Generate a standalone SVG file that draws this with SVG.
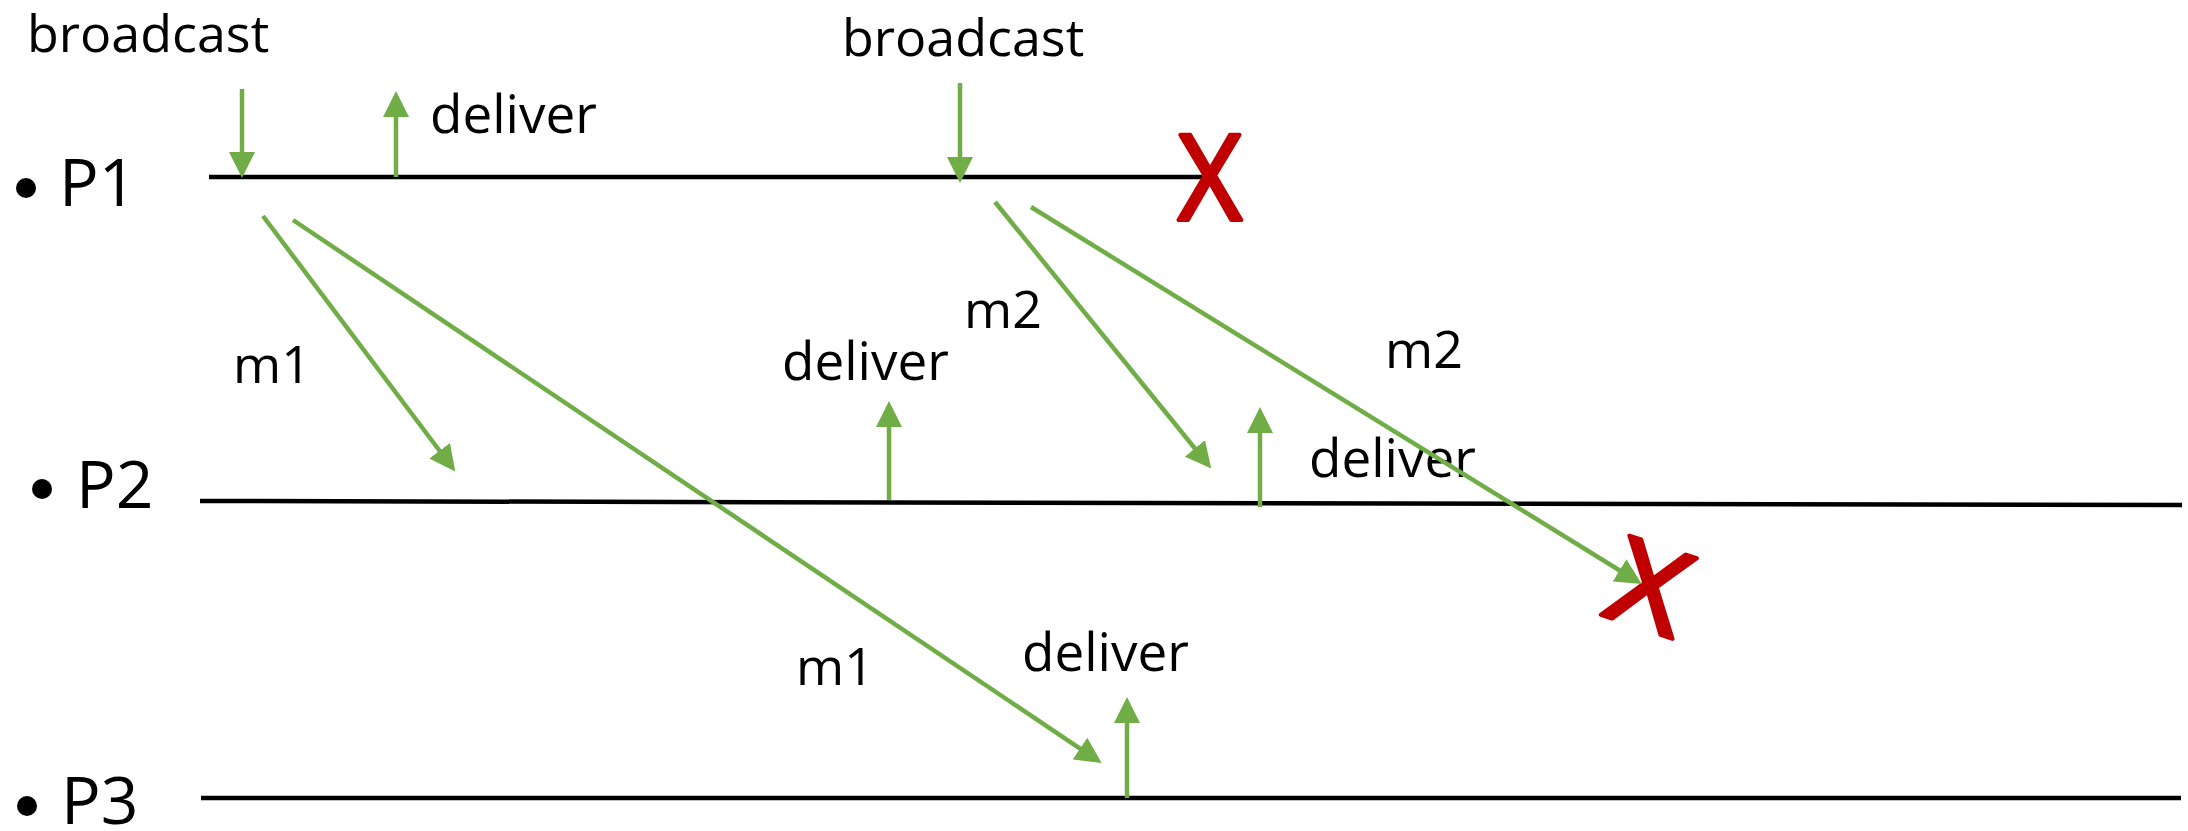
<svg xmlns="http://www.w3.org/2000/svg" width="2188" height="831" viewBox="0 0 2188 831">
  <style>
    .lbl { font-family: "Open Sans", "Noto Sans", "Liberation Sans", sans-serif; fill: #000; }
    .ev { font-size: 53px; }
    .msg { font-size: 52px; }
    .proc { font-size: 66px; }
    .timeline { stroke: #000; stroke-width: 4.5; fill: none; }
    .arrow { stroke: #70AD47; stroke-width: 4.5; fill: none; marker-end: url(#head); }
    .crash { font-family: "Open Sans", "Noto Sans", "Liberation Sans", sans-serif; font-size: 119px; fill: #C00000; stroke: #C00000; stroke-width: 4; stroke-linejoin: round; text-anchor: middle; }
  </style>
  <defs>
    <marker id="head" markerUnits="userSpaceOnUse" markerWidth="26" markerHeight="26" viewBox="0 0 26 26" refX="4" refY="13" orient="auto">
      <path d="M0,0 L26,13 L0,26 Z" fill="#70AD47"/>
    </marker>
  </defs>
  <rect width="2188" height="831" fill="#fff"/>

  <!-- process P1 -->
  <g id="p1">
    <circle cx="26" cy="188" r="10" fill="#000"/>
    <text class="lbl proc" x="59" y="206">P1</text>
    <line class="timeline" x1="209" y1="177" x2="1202" y2="177"/>
  </g>

  <!-- process P2 -->
  <g id="p2">
    <circle cx="42" cy="489" r="10" fill="#000"/>
    <text class="lbl proc" x="76" y="508">P2</text>
    <line class="timeline" x1="200" y1="501" x2="2182" y2="505"/>
  </g>

  <!-- process P3 -->
  <g id="p3">
    <circle cx="27" cy="806" r="10" fill="#000"/>
    <text class="lbl proc" x="61" y="824">P3</text>
    <line class="timeline" x1="201" y1="798" x2="2181" y2="798"/>
  </g>

  <!-- crash of P1 -->
  <g id="crash-p1">
    <text class="crash" transform="translate(1210,220) scale(0.93,1)" x="0" y="0">X</text>
  </g>

  <!-- m2 lost on its way to P3 -->
  <g id="crash-m2">
    <text class="crash" transform="matrix(1.052 0.354 -0.312 0.941 1650 587)" x="0" y="42.5">X</text>
  </g>

  <!-- event labels -->
  <g id="labels">
    <text class="lbl msg" x="27" y="52">broadcast</text>
    <text class="lbl msg" x="842" y="56">broadcast</text>
    <text class="lbl ev" x="430" y="133">deliver</text>
    <text class="lbl ev" x="782" y="380">deliver</text>
    <text class="lbl ev" x="1309" y="477">deliver</text>
    <text class="lbl ev" x="1022" y="671">deliver</text>
    <text class="lbl msg" x="233" y="383">m1</text>
    <text class="lbl msg" x="796" y="685">m1</text>
    <text class="lbl msg" x="964" y="328">m2</text>
    <text class="lbl msg" x="1385" y="368">m2</text>
  </g>

  <!-- connectors: broadcast / deliver events and messages -->
  <g id="connectors">
    <line class="arrow" x1="242" y1="89" x2="242" y2="156"/>
    <line class="arrow" x1="396" y1="177" x2="396" y2="113"/>
    <line class="arrow" x1="960" y1="83" x2="960" y2="161"/>
    <line class="arrow" x1="263" y1="216" x2="442" y2="454"/>
    <line class="arrow" x1="293" y1="220" x2="1083.4" y2="750.8"/>
    <line class="arrow" x1="889" y1="500" x2="889" y2="423"/>
    <line class="arrow" x1="995" y1="202" x2="1197.4" y2="451.5"/>
    <line class="arrow" x1="1031" y1="207" x2="1623" y2="572.5"/>
    <line class="arrow" x1="1260" y1="507" x2="1260" y2="429"/>
    <line class="arrow" x1="1127" y1="798" x2="1127" y2="719"/>
  </g>
</svg>
